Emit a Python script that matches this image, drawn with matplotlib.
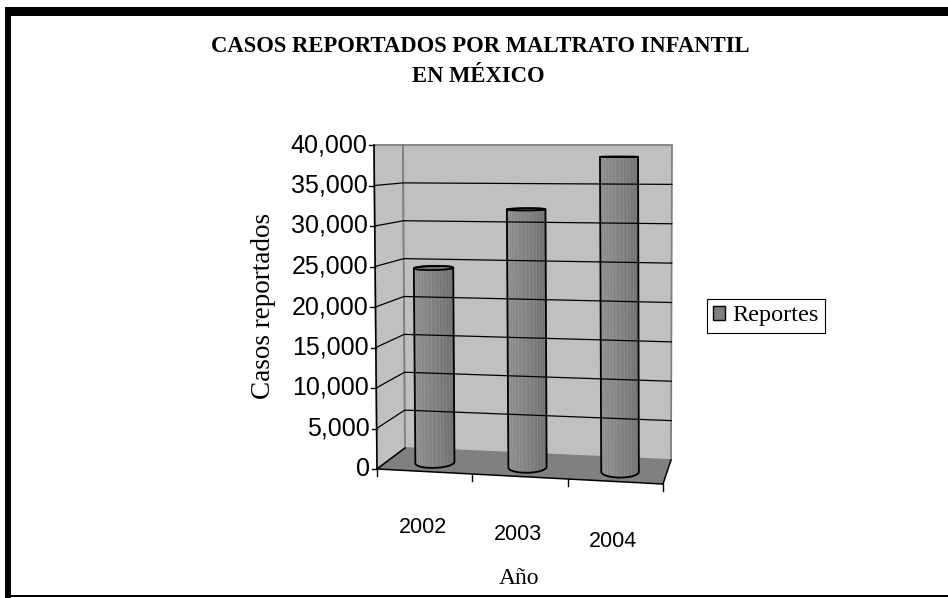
import matplotlib.pyplot as plt
import numpy as np
from matplotlib.patches import Polygon, Patch, Rectangle

years = ["2002", "2003", "2004"]
reportes = [24500, 32000, 38550]
y_ticks = [0, 5000, 10000, 15000, 20000, 25000, 30000, 35000, 40000]
y_max = 40000

plt.rcParams['font.family'] = 'Liberation Serif'
SANS = 'Liberation Sans'

# corners of the 3d plot box in figure pixels (y grows downwards)
FBL, FBR = np.array([377., 469.]), np.array([663., 484.])
BBL, BBR = np.array([405., 448.]), np.array([671., 460.])
FTL, FTR = np.array([374., 145.]), np.array([661., 145.])
BTL, BTR = np.array([403., 145.]), np.array([672., 145.])


def proj(u, v, w):
    # u: 0..1 along the categories, v: value, w: 0 (front) .. 1 (back)
    u = np.asarray(u, float)[..., None]
    t = np.asarray(v, float)[..., None] / y_max
    w = np.asarray(w, float)[..., None]
    front = (FBL + (FBR - FBL) * u) * (1 - t) + (FTL + (FTR - FTL) * u) * t
    back = (BBL + (BBR - BBL) * u) * (1 - t) + (BTL + (BTR - BTL) * u) * t
    return front * (1 - w) + back * w


def hull(pts):
    pts = sorted(map(tuple, pts))

    def cross(o, a, b):
        return (a[0] - o[0]) * (b[1] - o[1]) - (a[1] - o[1]) * (b[0] - o[0])

    lower, upper = [], []
    for p in pts:
        while len(lower) >= 2 and cross(lower[-2], lower[-1], p) <= 0:
            lower.pop()
        lower.append(p)
    for p in reversed(pts):
        while len(upper) >= 2 and cross(upper[-2], upper[-1], p) <= 0:
            upper.pop()
        upper.append(p)
    return lower[:-1] + upper[:-1]


fig = plt.figure(figsize=(9.48, 5.98), dpi=100)
ax = fig.add_axes([0, 0, 1, 1])
ax.set_xlim(0, 948)
ax.set_ylim(598, 0)
ax.axis('off')

# frame around the chart
ax.add_patch(Rectangle((5, 7), 943, 9, color='black', lw=0))
ax.add_patch(Rectangle((5, 7), 6, 591, color='black', lw=0))
ax.add_patch(Rectangle((5, 595), 943, 2, color='black', lw=0))

# walls and floor
left_wall = [proj(0, 0, 0), proj(0, 0, 1), proj(0, y_max, 1), proj(0, y_max, 0)]
back_wall = [proj(0, 0, 1), proj(1, 0, 1), proj(1, y_max, 1), proj(0, y_max, 1)]
floor = [proj(0, 0, 0), proj(1, 0, 0), proj(1, 0, 1), proj(0, 0, 1)]
ax.add_patch(Polygon(left_wall, closed=True, fc='#c0c0c0', ec='#808080', lw=1.3))
ax.add_patch(Polygon(back_wall, closed=True, fc='#c0c0c0', ec='#808080', lw=1.3))
ax.add_patch(Polygon(floor, closed=True, fc='#808080', ec='none'))

# gridlines on the walls
for v in y_ticks[1:-1]:
    g = np.array([proj(0, v, 0), proj(0, v, 1), proj(1, v, 1)])
    ax.plot(g[:, 0], g[:, 1], color='black', lw=0.9)

# floor edges
for a, b in [((0, 0), (1, 0)), ((0, 0), (0, 1)), ((1, 0), (1, 1))]:
    e = np.array([proj(a[0], 0, a[1]), proj(b[0], 0, b[1])])
    ax.plot(e[:, 0], e[:, 1], color='black', lw=1.1)

# value axis on the front left edge
e = np.array([proj(0, 0, 0), proj(0, y_max, 0)])
ax.plot(e[:, 0], e[:, 1], color='black', lw=1.1)
for v in y_ticks:
    x, y = proj(0, v, 0)
    ax.plot([x - 5, x], [y, y], color='black', lw=1)
    ax.text(x - 7, y, f"{v:,}", ha='right', va='center', fontsize=18,
            family=SANS)

# category ticks and labels along the front floor edge
for k in range(len(years) + 1):
    x, y = proj(k / len(years), 0, 0)
    ax.plot([x, x], [y, y + 7], color='black', lw=1)
for i, yr in enumerate(years):
    x, y = proj((i + 0.5) / len(years), 0, 0)
    ax.text(x - 2, y + 56 + 2 * i, yr, ha='center', va='center',
            fontsize=15.5, family=SANS)

# cylinders
th = np.linspace(0, 2 * np.pi, 33)
ru, rw, wc = 0.067, 0.25, 0.42
for i, val in enumerate(reportes):
    uc = (i + 0.5) / len(years)
    us = uc + ru * np.cos(th)
    ws = wc + rw * np.sin(th)
    bot = proj(us, 0, ws)
    top = proj(us, val, ws)
    order = np.argsort(-(ws[:-1] + ws[1:]))
    for k in order:
        quad = [bot[k], bot[k + 1], top[k + 1], top[k]]
        a = 0.5 * (th[k] + th[k + 1])
        g = 0.47 + 0.07 * np.cos(a - 1.25 * np.pi)
        ax.add_patch(Polygon(quad, closed=True, fc=(g, g, g),
                             ec=(g + 0.06, g + 0.06, g + 0.06), lw=0.5))
    ax.add_patch(Polygon(top, closed=True, fc='#6e6e6e', ec='black', lw=1.2))
    ax.add_patch(Polygon(hull(np.vstack([bot, top])), closed=True,
                         fill=False, ec='black', lw=1.3))

# titles
ax.text(480, 47, "CASOS REPORTADOS POR MALTRATO INFANTIL", ha='center',
        va='center', fontsize=16.3, fontweight='bold')
ax.text(478, 77, "EN MÉXICO", ha='center', va='center', fontsize=16.3,
        fontweight='bold')
ax.text(264, 306, "Casos reportados", ha='center', va='center',
        fontsize=19.5, rotation=90)
ax.text(519, 578, "Año", ha='center', va='center', fontsize=17)

leg = ax.legend(handles=[Patch(fc='#808080', ec='black', lw=1)],
                labels=["Reportes"], loc='center left',
                bbox_to_anchor=(707, 316), bbox_transform=ax.transData,
                fancybox=False, edgecolor='black', framealpha=1,
                prop={'family': 'Liberation Serif', 'size': 17.5},
                handlelength=0.5, handleheight=0.5, handletextpad=0.3,
                borderpad=0.25, borderaxespad=0)
leg.get_frame().set_linewidth(0.8)

fig.savefig("out.png", dpi=100)
